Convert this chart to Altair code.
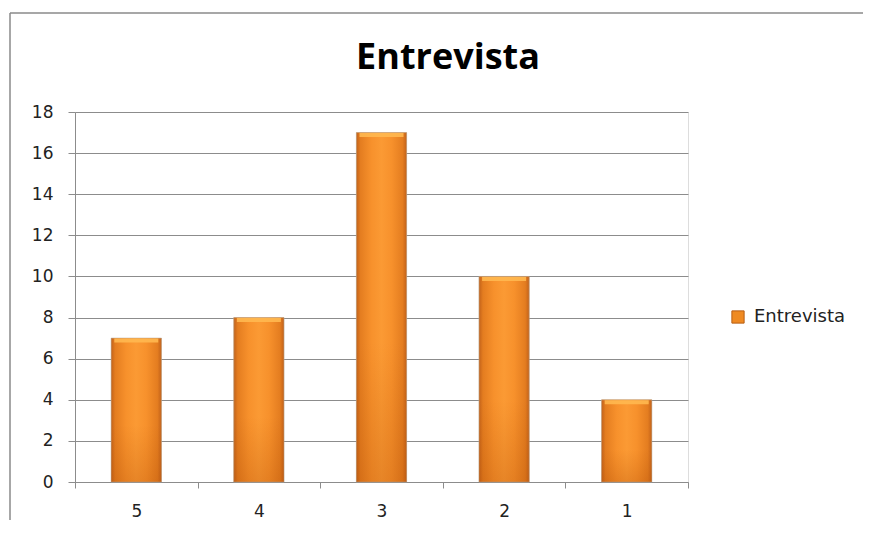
import altair as alt
import pandas as pd

categories = ["5", "4", "3", "2", "1"]
values = [7, 8, 17, 10, 4]
series = ["Entrevista"] * 5
y_ticks = [0, 2, 4, 6, 8, 10, 12, 14, 16, 18]
title_text = "Entrevista"

df = pd.DataFrame({"cat": categories, "val": values, "serie": series})

W, H = 613, 370
GRID = "#8c8c8c"
FONT = "DejaVu Sans"

x_enc = alt.X("cat:N", sort=categories, title=None,
              scale=alt.Scale(paddingInner=0, paddingOuter=0),
              axis=alt.Axis(labelAngle=0, tickBand="extent", domainColor=GRID,
                            tickColor=GRID, tickSize=6, labelFont=FONT, labelFontSize=17,
                            labelColor="#222222", labelPadding=15, grid=False))
x_plain = alt.X("cat:N", sort=categories)
y_enc = alt.Y("val:Q", title=None,
              scale=alt.Scale(domain=[0, 18], nice=False),
              axis=alt.Axis(values=y_ticks, grid=True, gridColor=GRID, gridWidth=1,
                            domainColor=GRID, tickColor=GRID, tickSize=7,
                            labelFont=FONT, labelFontSize=17, labelColor="#222222",
                            labelPadding=15))

base = alt.Chart(df)
BW = alt.RelativeBandSize(0.41)

legend_bars = base.mark_bar(color="#f0881f", width=BW).encode(
    x=x_enc, y=y_enc,
    color=alt.Color("serie:N", title=None,
                    scale=alt.Scale(range=["#ef8a22"]),
                    legend=alt.Legend(orient="none", legendX=654, legendY=196,
                                      symbolType="square", symbolSize=150,
                                      symbolStrokeColor="#b85e14", symbolStrokeWidth=1,
                                      labelFont=FONT, labelFontSize=18,
                                      labelColor="#222222", labelOffset=7, padding=0)),
)

grad = alt.Gradient(gradient="linear", x1=0, x2=1, y1=0, y2=0, stops=[
    alt.GradientStop(offset=0, color="#c2621a"),
    alt.GradientStop(offset=0.08, color="#e47d20"),
    alt.GradientStop(offset=0.3, color="#f7912c"),
    alt.GradientStop(offset=0.5, color="#fb9a34"),
    alt.GradientStop(offset=0.7, color="#f7912c"),
    alt.GradientStop(offset=0.92, color="#e47d20"),
    alt.GradientStop(offset=1, color="#c2621a"),
])

bars = base.mark_bar(color=grad, width=BW, stroke="#b8a898", strokeWidth=1,
                     strokeOpacity=0.6).encode(x=x_plain, y="val:Q")

shade = alt.Gradient(gradient="linear", x1=0, x2=0, y1=0, y2=1, stops=[
    alt.GradientStop(offset=0, color="rgba(255,255,255,0)"),
    alt.GradientStop(offset=0.6, color="rgba(180,80,0,0)"),
    alt.GradientStop(offset=1, color="rgba(170,70,0,0.25)"),
])
bars_shade = base.mark_bar(color=shade, width=BW).encode(x=x_plain, y="val:Q")

caps = base.mark_tick(color="#ffb850", thickness=4, size=44, yOffset=2.5, opacity=0.9).encode(
    x=x_plain, y="val:Q")

one = alt.Chart(pd.DataFrame({"a": [0]}))
frame_top = one.mark_rule(color="#8a8a8a", strokeWidth=1.5).encode(
    x=alt.value(-65), x2=alt.value(900), y=alt.value(-99))
frame_left = one.mark_rule(color="#8a8a8a", strokeWidth=1.5).encode(
    x=alt.value(-65), y=alt.value(-99), y2=alt.value(700))

title = one.mark_text(text=title_text, font="Open Sans", fontWeight="bold", fontSize=36,
                      color="#000000", align="center", baseline="alphabetic").encode(
    x=alt.value(373), y=alt.value(-43))

chart = alt.layer(frame_top, frame_left, legend_bars, bars, bars_shade, caps, title).properties(
    width=W, height=H,
    autosize=alt.AutoSizeParams(type="none"),
    padding={"left": 67, "top": 104, "right": 175, "bottom": 38},
).configure_view(stroke=None).configure(background="white")

chart.save("out.html", embed_options={"renderer": "svg", "actions": False})
